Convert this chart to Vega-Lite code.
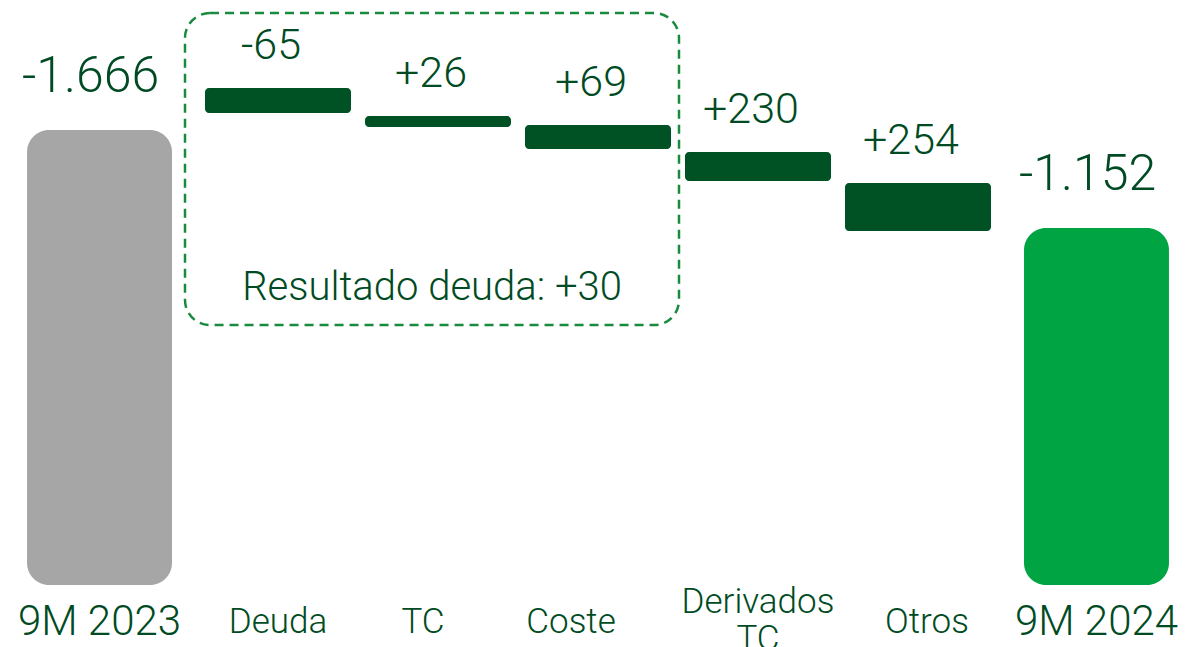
{
  "$schema": "https://vega.github.io/schema/vega-lite/v6.json",
  "width": 1187,
  "height": 585,
  "autosize": {"type": "none"},
  "padding": {"top": 0, "left": 0, "right": 0, "bottom": 62},
  "background": "white",
  "config": {
    "view": {"stroke": null},
    "font": "Roboto",
    "text": {"font": "Roboto", "fontWeight": 300},
    "axis": {"labelFont": "Roboto", "labelFontWeight": 300}
  },
  "datasets": {
    "totales": [
      {"concepto": "9M 2023", "valor": 1666, "etiqueta": "-1.666"},
      {"concepto": "9M 2024", "valor": 1152, "etiqueta": "-1.152"}
    ],
    "pasos": [
      {"concepto": "Deuda", "desde": 1755, "hasta": 1886, "etiqueta": "-65"},
      {"concepto": "TC", "desde": 1682, "hasta": 1739, "etiqueta": "+26"},
      {"concepto": "Coste", "desde": 1566, "hasta": 1692, "etiqueta": "+69"},
      {"concepto": "Derivados TC", "desde": 1399, "hasta": 1551, "etiqueta": "+230"},
      {"concepto": "Otros", "desde": 1136, "hasta": 1388, "etiqueta": "+254"}
    ],
    "grupo": [
      {"desde": "Deuda", "hasta": "Coste", "centro": "TC", "inferior": 643, "superior": 2280, "etiqueta": "Resultado deuda: +30"}
    ]
  },
  "layer": [
    {
      "data": {"name": "totales"},
      "layer": [
        {
          "mark": {"type": "bar", "cornerRadius": 22},
          "encoding": {
            "x": {
              "field": "concepto", "type": "nominal", "sort": null,
              "scale": {"domain": ["9M 2023", "9M 2024"], "paddingInner": 0.8546, "paddingOuter": 0.0226, "align": 0.6},
              "axis": {"orient": "bottom", "title": null, "domain": false, "ticks": false, "tickSize": 0, "labelAngle": 0, "labelFontSize": 42, "labelColor": "#004b23", "labelBaseline": "middle", "labelPadding": 36}
            },
            "y": {"field": "valor", "type": "quantitative", "scale": {"domain": [-720, 2348], "nice": false, "zero": false}, "axis": null},
            "y2": {"datum": -720},
            "color": {"field": "concepto", "type": "nominal", "scale": {"domain": ["9M 2023", "9M 2024"], "range": ["#a6a6a6", "#00a443"]}, "legend": null}
          }
        },
        {
          "mark": {"type": "text", "baseline": "alphabetic", "dy": -38, "dx": -9, "fontSize": 50, "color": "#004b23"},
          "encoding": {
            "x": {"field": "concepto", "type": "nominal", "sort": null},
            "y": {"field": "valor", "type": "quantitative"},
            "text": {"field": "etiqueta"}
          }
        }
      ]
    },
    {
      "layer": [
        {
          "data": {"name": "pasos"},
          "mark": {"type": "bar", "cornerRadius": 4, "color": "#005224"},
          "encoding": {
            "x": {
              "field": "concepto", "type": "nominal", "sort": null,
              "scale": {"domain": ["Deuda", "TC", "Coste", "Derivados TC", "Otros"], "range": [205, 991], "paddingInner": 0.0875, "paddingOuter": 0},
              "axis": {
                "orient": "bottom", "title": null, "domain": false, "ticks": false, "tickSize": 0, "labelAngle": 0,
                "labelFontSize": 35, "labelColor": "#004b23", "labelBaseline": "middle", "labelLineHeight": 37,
                "labelPadding": {"condition": {"test": "datum.value == 'Derivados TC'", "value": 16}, "value": 36},
                "labelExpr": "datum.value == 'Derivados TC' ? ['Derivados', 'TC'] : datum.value",
                "labelOffset": {"condition": [{"test": "datum.value == 'TC'", "value": -15}, {"test": "datum.value == 'Coste'", "value": -27}, {"test": "datum.value == 'Otros'", "value": 9}], "value": 0}
              }
            },
            "y": {"field": "desde", "type": "quantitative", "scale": {"domain": [-720, 2348], "nice": false, "zero": false}, "axis": null},
            "y2": {"field": "hasta"}
          }
        },
        {
          "data": {"name": "pasos"},
          "mark": {"type": "text", "baseline": "alphabetic", "dy": -29, "dx": -7, "fontSize": 43, "color": "#004b23"},
          "encoding": {
            "x": {"field": "concepto", "type": "nominal", "sort": null},
            "y": {"field": "hasta", "type": "quantitative"},
            "text": {"field": "etiqueta"}
          }
        },
        {
          "data": {"name": "grupo"},
          "mark": {"type": "rect", "fill": "transparent", "stroke": "#1a8a3f", "strokeWidth": 2.5, "strokeDash": [9, 6], "cornerRadius": 25, "xOffset": -20, "x2Offset": 81},
          "encoding": {
            "x": {"field": "desde", "type": "nominal", "sort": null, "bandPosition": 0},
            "x2": {"field": "hasta"},
            "y": {"field": "superior", "type": "quantitative"},
            "y2": {"field": "inferior"}
          }
        },
        {
          "data": {"name": "grupo"},
          "mark": {"type": "text", "baseline": "alphabetic", "dy": -25, "dx": -6, "fontSize": 40, "color": "#004b23"},
          "encoding": {
            "x": {"field": "centro", "type": "nominal", "sort": null},
            "y": {"field": "inferior", "type": "quantitative"},
            "text": {"field": "etiqueta"}
          }
        }
      ]
    }
  ],
  "resolve": {"scale": {"x": "independent"}, "axis": {"x": "independent"}}
}
